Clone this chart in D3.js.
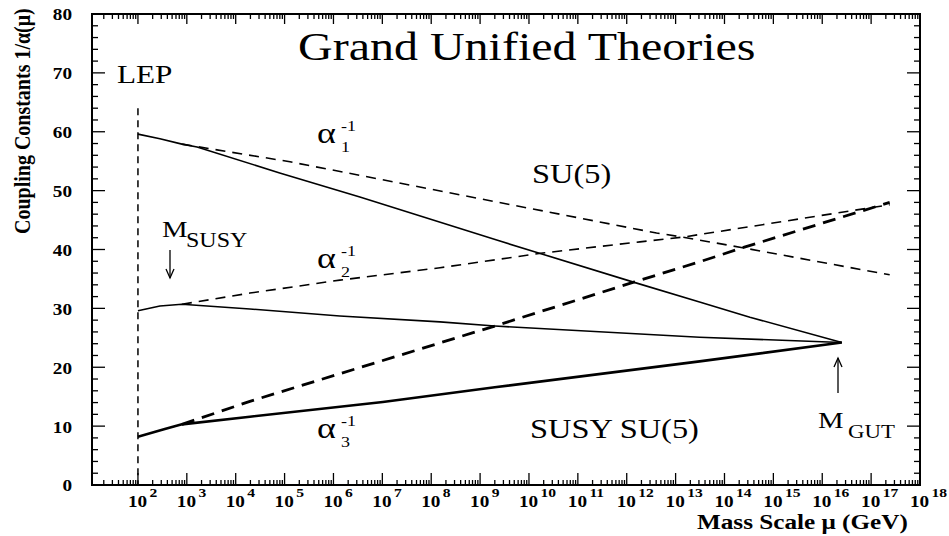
<!DOCTYPE html>
<html>
<head>
<meta charset="utf-8">
<script src="https://cdn.jsdelivr.net/npm/d3@7/dist/d3.min.js"></script>
<style>
  html, body { margin: 0; padding: 0; background: #fff; }
  svg { display: block; }
  text { font-family: "Liberation Serif", "Times New Roman", "DejaVu Serif", serif; fill: #000; }
</style>
</head>
<body>
<svg id="chart" width="949" height="536"></svg>
<script>
// values: mass scale as log10(mu / GeV), inverse couplings 1/alpha
const susyExp1 = [2.0, 2.45, 2.9, 3.21, 4.9, 6.54, 9.34, 10.28, 12.12, 13.49, 14.52, 16.4];
const susyA1   = [59.6, 58.8, 57.9, 57.4, 53.0, 48.9, 41.6, 39.2, 34.5, 31.1, 28.5, 24.2];
const susyExp2 = [2.0, 2.45, 2.9, 4.29, 6.13, 8.18, 9.3, 13.49, 16.4];
const susyA2   = [29.6, 30.4, 30.7, 29.9, 28.7, 27.7, 27.0, 25.1, 24.2];
const susyExp3 = [2.0, 2.55, 2.9, 4.29, 7.01, 9.3, 13.49, 16.4];
const susyA3   = [8.2, 9.5, 10.3, 11.6, 14.1, 16.6, 21.0, 24.2];

const smExp1 = [2.9, 5.11, 12.61, 13.15, 14.37, 17.38];
const smA1   = [57.9, 54.9, 42.8, 42.1, 40.3, 35.7];
const smExp2 = [2.9, 4.29, 6.13, 8.18, 10.28, 12.27, 13.15, 17.38];
const smA2   = [30.7, 32.6, 34.8, 36.9, 39.4, 41.3, 42.1, 47.6];
const smExp3 = [2.9, 4.29, 9.3, 12.16, 13.49, 14.37, 17.38];
const smA3   = [10.3, 14.2, 27.0, 34.5, 37.9, 40.3, 48.0];

const lepMass = 1e2;     // GeV, LEP line
const lepTop = 64;       // 1/alpha where the LEP line starts
const xDecades = d3.range(2, 19);            // tick labels 10^2 .. 10^18
const yTicks = d3.range(0, 81, 10);

const SX = 1.2; // the scan is stretched sideways
const svg = d3.select('#chart');

const x = d3.scaleLog().domain([Math.pow(10, 1.06), 1e18]).range([92, 920]);
const y = d3.scaleLinear().domain([0, 80]).range([485, 14]);
const X = e => x(Math.pow(10, e));

function txt(px, py, s, size, opts = {}) {
  const t = svg.append('text')
    .attr('transform', `translate(${px},${py}) ${opts.rot ? 'rotate(-90) scale(1,' + SX + ')' : 'scale(' + SX + ',1)'}`)
    .attr('font-size', size)
    .attr('font-weight', opts.bold ? 'bold' : 'normal')
    .attr('text-anchor', opts.anchor || 'start')
    .text(s);
  if (opts.middle) t.attr('dominant-baseline', 'central');
  return t;
}

// frame
const [x0, x1] = x.range();
const [yb, yt] = y.range();
svg.append('rect').attr('x', x0).attr('y', yt).attr('width', x1 - x0).attr('height', yb - yt)
  .attr('fill', 'none').attr('stroke', '#000').attr('stroke-width', 2);

// log ticks on bottom and top, inward
const ticksG = svg.append('g').attr('stroke', '#000').attr('stroke-width', 1.3);
for (let k = 1; k <= 17; k++) {
  for (let m = 1; m <= 9; m++) {
    const v = m * Math.pow(10, k);
    if (v < x.domain()[0] || v > x.domain()[1]) continue;
    const px = x(v);
    ticksG.append('line').attr('x1', px).attr('x2', px).attr('y1', yb).attr('y2', yb - (m === 1 ? 12 : 5));
    ticksG.append('line').attr('x1', px).attr('x2', px).attr('y1', yt).attr('y2', yt + (m === 1 ? 10 : 5));
  }
}
// linear ticks on left and right, inward
d3.range(0, 81, 2).forEach(v => {
  const len = v % 10 === 0 ? 13 : 6;
  ticksG.append('line').attr('x1', x0).attr('x2', x0 + len).attr('y1', y(v)).attr('y2', y(v));
  ticksG.append('line').attr('x1', x1).attr('x2', x1 - len).attr('y1', y(v)).attr('y2', y(v));
});

// y tick labels
yTicks.forEach(v => txt(72, y(v) + 1, String(v), 16, { bold: true, anchor: 'end', middle: true }));

// x tick labels: 10 with a raised exponent
xDecades.forEach(e => {
  const t = txt(X(e) - 10, 507, '', 16, { bold: true });
  t.append('tspan').text('10');
  t.append('tspan').attr('font-size', 13).attr('dx', 2).attr('dy', -10).text(String(e));
});

// axis titles
txt(697, 529, 'Mass Scale \u03bc (GeV)', 21, { bold: true });
txt(30, 234, 'Coupling Constants  1/\u03b1(\u03bc)', 20, { bold: true, rot: true });

// title
txt(298, 60, 'Grand Unified Theories', 40);

// LEP line
svg.append('line')
  .attr('x1', x(lepMass)).attr('x2', x(lepMass)).attr('y1', y(lepTop)).attr('y2', y(0))
  .attr('stroke', '#000').attr('stroke-width', 1.5).attr('stroke-dasharray', '7,5');

// curves
const line = d3.line().x(d => X(d[0])).y(d => y(d[1]));
const curves = [
  { e: susyExp1, v: susyA1, w: 1.6, dash: null },
  { e: susyExp2, v: susyA2, w: 1.6, dash: null },
  { e: susyExp3, v: susyA3, w: 2.6, dash: null },
  { e: smExp1, v: smA1, w: 1.6, dash: '10,7' },
  { e: smExp2, v: smA2, w: 1.6, dash: '10,7' },
  { e: smExp3, v: smA3, w: 2.8, dash: '13,8' },
];
curves.forEach(c => {
  svg.append('path')
    .attr('d', line(c.e.map((e, i) => [e, c.v[i]])))
    .attr('fill', 'none').attr('stroke', '#000')
    .attr('stroke-width', c.w)
    .attr('stroke-linejoin', 'round')
    .attr('stroke-dasharray', c.dash);
});

// annotations
txt(117, 83, 'LEP', 26);
txt(532, 183, 'SU(5)', 27);
txt(530, 438, 'SUSY SU(5)', 27);

function alphaLabel(px, py, sub) {
  txt(px, py, '\u03b1', 30);
  txt(px + 24, py + 9, sub, 15);
  txt(px + 24, py - 12, '-1', 15);
}
alphaLabel(317, 143, '1');
alphaLabel(317, 268, '2');
alphaLabel(317, 438, '3');

txt(162, 237, 'M', 24);
txt(186, 247, 'SUSY', 20);
txt(818, 428, 'M', 24);
txt(848, 438, 'GUT', 19);

function arrow(px, yFrom, yTo) {
  const dir = yTo > yFrom ? 1 : -1;
  const g = svg.append('g').attr('stroke', '#000').attr('stroke-width', 1.3).attr('fill', 'none');
  g.append('line').attr('x1', px).attr('x2', px).attr('y1', yFrom).attr('y2', yTo);
  g.append('path').attr('d', `M${px - 4},${yTo - dir * 9} L${px},${yTo} L${px + 4},${yTo - dir * 9}`);
}
arrow(170, 250, 278);
arrow(838, 393, 358);
</script>
</body>
</html>
